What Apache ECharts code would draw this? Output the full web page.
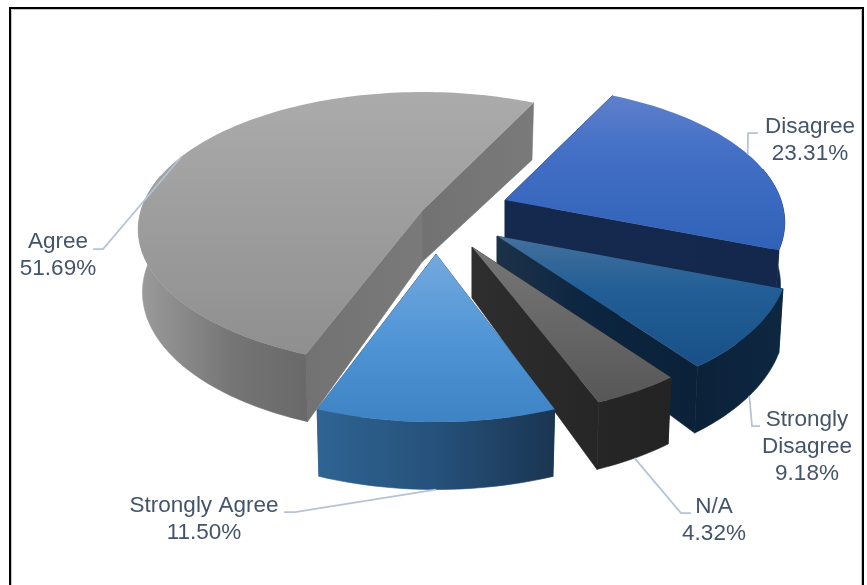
<!DOCTYPE html>
<html>
<head>
<meta charset="utf-8">
<title>Survey responses</title>
<style>
  html, body { margin: 0; padding: 0; background: #fff; }
  #chart { width: 867px; height: 585px; }
</style>
<script src="https://cdn.jsdelivr.net/npm/echarts@6/dist/echarts.min.js"></script>
</head>
<body>
<div id="chart"></div>
<script>
// Responses, clockwise from the pie's first slice.
const categories = ['Disagree', 'Strongly Disagree', 'N/A', 'Strongly Agree', 'Agree'];
const shares = [23.31, 9.18, 4.32, 11.5, 51.69];

// Back-to-front paint order of the slices, as indexes into categories.
const paintOrder = [4, 0, 1, 2, 3];

// Projection of the tilted disc.
const FIRST_SLICE_ANGLE = 26.8;
const PERSPECTIVE = 0.1626;
const APEX_DEPTH = 51;
const BOTTOM_SHRINK = 0.985;

// Where each exploded slice sits on the canvas: point of the wedge and centre/radii of its rim.
const sliceLayout = {
  'Disagree':          { apex: [505, 200], rim: [503, 200], rx: 278, ry: 134 },
  'Strongly Disagree': { apex: [497, 236], rim: [511, 236], rx: 274, ry: 140.7 },
  'N/A':               { apex: [472, 247], rim: [484.5, 247], rx: 274, ry: 140.7 },
  'Strongly Agree':    { apex: [436, 254], rim: [436, 254], rx: 285, ry: 140.7 },
  'Agree':             { apex: [422, 211], rim: [423, 207], rx: 281, ry: 133.7 }
};

const sliceStyle = {
  'Disagree': {
    top: [[0, '#5f80cb'], [0.35, '#4470c6'], [1, '#2f62b8']],
    rimWall: [[0, '#16294f'], [1, '#14264c']],
    side: [[0, '#15294f'], [1, '#14274c']]
  },
  'Strongly Disagree': {
    top: [[0, '#45709c'], [0.4, '#225f96'], [1, '#185087']],
    rimWall: [[0, '#0a2138'], [1, '#0e2741']],
    side: [[0, '#1c3249'], [0.45, '#0c2540'], [1, '#0a2138']]
  },
  'N/A': {
    top: [[0, '#777777'], [1, '#575757']],
    rimWall: [[0, '#262626'], [1, '#232323']],
    side: [[0, '#2e2e2e'], [1, '#262626']]
  },
  'Strongly Agree': {
    top: [[0, '#74a9de'], [0.5, '#5095d6'], [1, '#3e83c4']],
    rimWall: [[0, '#2f6493'], [0.5, '#25517a'], [1, '#1a3552']],
    side: [[0, '#2b5a88'], [1, '#1a3552']]
  },
  'Agree': {
    top: [[0, '#ababab'], [1, '#8f8f8f']],
    rimWall: [[0, '#9c9c9c'], [0.55, '#757575'], [1, '#696969']],
    side: [[0, '#727272'], [1, '#7a7a7a']]
  }
};

// Text blocks and the elbow of each leader line.
const labelLayout = {
  'Disagree':          { lines: ['Disagree'], at: [810, 140.5], elbow: [[758, 133], [748, 133]] },
  'Strongly Disagree': { lines: ['Strongly', 'Disagree'], at: [807, 447], elbow: [[760, 426], [752, 426]] },
  'N/A':               { lines: ['N/A'], at: [714, 520.5], elbow: [[691, 513], [681, 513]] },
  'Strongly Agree':    { lines: ['Strongly Agree'], at: [204, 519.5], elbow: [[284, 512], [295, 512]] },
  'Agree':             { lines: ['Agree'], at: [58, 255.5], elbow: [[93, 249], [103, 249]] }
};

const TEXT_COLOR = '#44546a';
const LEADER_COLOR = '#b6c3d5';
const LABEL_FONT = '22.5px "Liberation Sans", Arial, sans-serif';

const toRad = d => d * Math.PI / 180;
const total = shares.reduce((a, b) => a + b, 0);

// Start and end angle (degrees clockwise from the back of the disc) of every slice.
const spans = [];
shares.reduce((start, v) => {
  const end = start + v / total * 360;
  spans.push([start, end]);
  return end;
}, FIRST_SLICE_ANGLE);

function rimPoint(layout, deg) {
  const c = Math.cos(toRad(deg));
  const s = Math.sin(toRad(deg));
  const scale = 1 / (1 + PERSPECTIVE * c);
  return [layout.rim[0] + layout.rx * s * scale, layout.rim[1] - layout.ry * c * scale];
}

function lowerPoint(layout, deg) {
  const p = rimPoint(layout, deg);
  const depth = 62 - 5.5 * Math.cos(toRad(deg));
  return [layout.rim[0] + (p[0] - layout.rim[0]) * BOTTOM_SHRINK, p[1] + depth];
}

function arcAngles(from, to) {
  const list = [];
  const steps = Math.max(4, Math.ceil((to - from) / 1.5));
  for (let i = 0; i <= steps; i++) list.push(from + (to - from) * i / steps);
  return list;
}

function gradient(stops, horizontal) {
  return new echarts.graphic.LinearGradient(0, 0, horizontal ? 1 : 0, horizontal ? 0 : 1,
    stops.map(([offset, color]) => ({ offset, color })));
}

function polygon(points, fill) {
  return { type: 'polygon', shape: { points }, style: { fill, stroke: null }, silent: true };
}

// Wall pieces get a hairline of their own colour so shared edges stay closed.
function wall(points, stops) {
  const paint = gradient(stops, true);
  return {
    type: 'polygon',
    shape: { points },
    style: { fill: paint, stroke: paint, lineWidth: 0.6 },
    silent: true
  };
}

// The part of the outer wall that faces the viewer.
function visibleWallAngles(from, to) {
  const ranges = [];
  let run = null;
  arcAngles(from, to).forEach(a => {
    if (Math.cos(toRad(a)) < 0.25) {
      if (!run) { run = []; ranges.push(run); }
      run.push(a);
    } else {
      run = null;
    }
  });
  return ranges;
}

function renderSlice(params) {
  const index = paintOrder[params.dataIndex];
  const name = categories[index];
  const [from, to] = spans[index];
  const layout = sliceLayout[name];
  const style = sliceStyle[name];
  const label = labelLayout[name];
  const children = [];

  const apexTop = layout.apex;
  const apexLow = [layout.apex[0], layout.apex[1] + APEX_DEPTH];

  // Cut faces, the one on the far side first.
  [from, to]
    .sort((a, b) => Math.cos(toRad(b)) - Math.cos(toRad(a)))
    .forEach(angle => {
      children.push(wall(
        [apexTop, rimPoint(layout, angle), lowerPoint(layout, angle), apexLow],
        style.side
      ));
    });

  // Outer wall.
  visibleWallAngles(from, to).forEach(angles => {
    const upper = angles.map(a => rimPoint(layout, a));
    const lower = angles.map(a => lowerPoint(layout, a)).reverse();
    children.push(wall(upper.concat(lower), style.rimWall));
  });

  // Top face.
  const topPoints = [apexTop].concat(arcAngles(from, to).map(a => rimPoint(layout, a)));
  children.push(polygon(topPoints, gradient(style.top, false)));

  // Leader line runs to the rim at the slice's middle angle.
  const mid = (from + to) / 2;
  const anchor = Math.cos(toRad(mid)) < 0 ? lowerPoint(layout, mid) : rimPoint(layout, mid);
  children.push({
    type: 'polyline',
    shape: { points: label.elbow.concat([anchor]) },
    style: { stroke: LEADER_COLOR, lineWidth: 1.75, fill: null },
    silent: true
  });

  // Category and percentage.
  children.push({
    type: 'text',
    silent: true,
    style: {
      x: label.at[0],
      y: label.at[1],
      text: label.lines.concat([shares[index].toFixed(2) + '%']).join('\n'),
      font: LABEL_FONT,
      fill: TEXT_COLOR,
      lineHeight: 27,
      align: 'center',
      verticalAlign: 'middle'
    }
  });

  return { type: 'group', children };
}

const chart = echarts.init(document.getElementById('chart'), null, { renderer: 'canvas' });
chart.setOption({
  animation: false,
  backgroundColor: '#ffffff',
  graphic: [
    {
      type: 'rect',
      silent: true,
      shape: { x: 11.5, y: 9.5, width: 850, height: 700 },
      style: { fill: null, stroke: '#c4c4c4', lineWidth: 1 }
    },
    {
      type: 'rect',
      silent: true,
      shape: { x: 10, y: 8, width: 853, height: 700 },
      style: { fill: null, stroke: '#000000', lineWidth: 2 }
    }
  ],
  series: [{
    type: 'custom',
    coordinateSystem: 'none',
    silent: true,
    clip: false,
    data: paintOrder.map(i => ({ name: categories[i], value: shares[i] })),
    renderItem: renderSlice
  }]
});
</script>
</body>
</html>
